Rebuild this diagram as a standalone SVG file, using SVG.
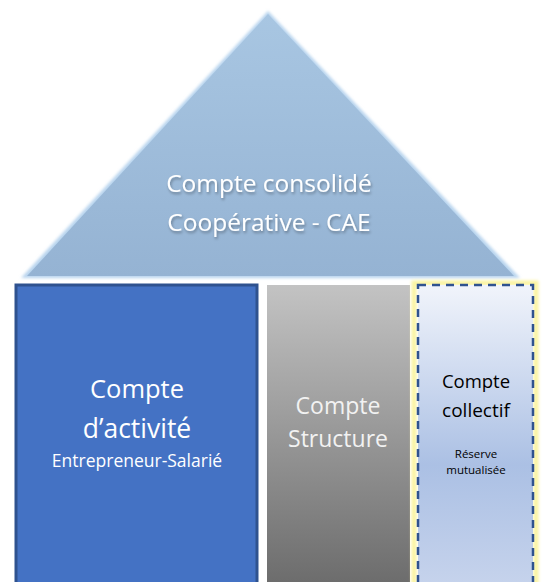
<svg xmlns="http://www.w3.org/2000/svg" width="544" height="582" viewBox="0 0 544 582">
<defs>
<style>
text{font-family:"Open Sans","Noto Sans","Liberation Sans",sans-serif;text-anchor:middle}
.w{fill:#ffffff}
.g{fill:#f2f2f2}
.k{fill:#000000}
</style>
<linearGradient id="gGray" x1="0" y1="0" x2="0" y2="1">
<stop offset="0" stop-color="#c3c3c3"/>
<stop offset="1" stop-color="#6c6c6c"/>
</linearGradient>
<linearGradient id="gColl" x1="0" y1="0" x2="0" y2="1">
<stop offset="0" stop-color="#f1f4fb"/>
<stop offset="0.6" stop-color="#abc0e4"/>
<stop offset="1" stop-color="#c6d3ec"/>
</linearGradient>
<linearGradient id="gRoof" x1="0" y1="0" x2="0" y2="1">
<stop offset="0" stop-color="#a8c6e2"/>
<stop offset="1" stop-color="#95b3d3"/>
</linearGradient>
<filter id="soft" x="-10%" y="-10%" width="120%" height="120%">
<feGaussianBlur stdDeviation="1.5"/>
</filter>
<filter id="tsh" x="-10%" y="-30%" width="120%" height="160%">
<feGaussianBlur in="SourceAlpha" stdDeviation="1.5"/>
<feOffset dx="1" dy="1.5"/>
<feComponentTransfer><feFuncA type="linear" slope="0.35"/></feComponentTransfer>
<feMerge><feMergeNode/><feMergeNode in="SourceGraphic"/></feMerge>
</filter>
</defs>
<g id="roof">
<polygon points="268,11 21,278 520,278" fill="#b8d4ee" filter="url(#soft)"/>
<polygon points="268,14 27,276 514,276" fill="url(#gRoof)"/>
<g filter="url(#tsh)">
<text class="w" x="269" y="192" font-size="24.5">Compte consolidé</text>
<text class="w" x="269" y="231" font-size="24.5">Coopérative - CAE</text>
</g>
</g>
<g id="activite">
<rect x="16" y="285" width="241" height="300" fill="#4472c4" stroke="#2f528f" stroke-width="3"/>
<text class="w" x="137" y="398" font-size="25.5">Compte</text>
<text class="w" x="137" y="438" font-size="26.5">d’activité</text>
<text class="w" x="137" y="467" font-size="17.5">Entrepreneur-Salarié</text>
</g>
<g id="structure">
<rect x="267" y="285" width="143" height="300" fill="url(#gGray)"/>
<text class="g" x="338" y="414" font-size="23">Compte</text>
<text class="g" x="338" y="447" font-size="23">Structure</text>
</g>
<g id="collectif">
<rect x="414" y="283" width="122" height="302" fill="none" stroke="#fbf4a0" stroke-width="5" filter="url(#soft)"/>
<rect x="418" y="285" width="115" height="300" fill="url(#gColl)" stroke="#2f528f" stroke-width="2.5" stroke-dasharray="8,6"/>
<text class="k" x="476" y="388" font-size="18.5">Compte</text>
<text class="k" x="476" y="417" font-size="19">collectif</text>
<text class="k" x="476" y="458" font-size="11.5">Réserve</text>
<text class="k" x="476" y="474" font-size="11.5">mutualisée</text>
</g>
<g id="connectors"/>
</svg>
